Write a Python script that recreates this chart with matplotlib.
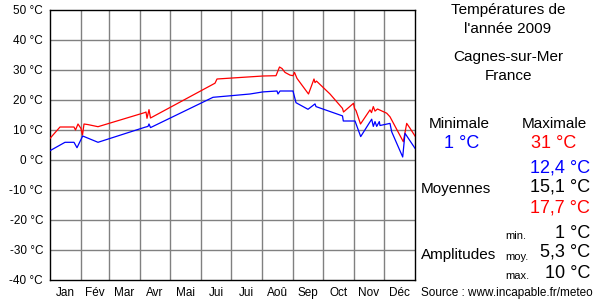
import matplotlib
matplotlib.use("Agg")
import matplotlib.pyplot as plt
import numpy as np

plt.rcParams['font.family'] = ['Liberation Sans', 'DejaVu Sans']

months = ["Jan", "Fév", "Mar", "Avr", "Mai", "Jui", "Jui", "Aoû", "Sep", "Oct", "Nov", "Déc"]
month_starts = [0, 31, 59, 90, 120, 151, 181, 212, 243, 273, 304, 334, 365]
yticks = [50, 40, 30, 20, 10, 0, -10, -20, -30, -40]

max_days = [0, 10, 24, 25.5, 28, 31, 32.5, 34, 38, 48, 94.7, 96, 97, 99, 100.5, 165, 167,
            190, 213, 226, 229.5, 232, 235, 240, 243, 244.5, 247, 258.5, 264, 265, 266.5,
            280, 292.5, 293.5, 303.5, 304.5, 306, 310.5, 320, 321.5, 323.3, 325, 327.5,
            336.7, 340, 353.3, 356.7, 360, 365]
max_vals = [7.2, 11, 11, 10, 12, 10.5, 8.3, 12, 11.8, 11.1, 15.8, 16, 13.9, 16.8, 14, 25.6, 27,
            27.5, 28, 28.1, 31, 30.5, 29.2, 28.3, 28.1, 29.2, 27.2, 22, 27, 25.8, 26.3,
            22, 17.2, 16, 18.9, 17.2, 16.5, 12, 16.7, 15.8, 17.8, 16.3, 17,
            15.6, 14.4, 6.1, 12.2, 10.6, 8]

min_days = [0, 15, 24, 27, 32.7, 48, 94.7, 98, 99, 100.5, 163, 180, 200, 213, 227, 228, 230,
            243, 246, 258, 265, 266, 292.5, 293.3, 305, 310.7, 319, 321.7, 323.3, 325, 326.7,
            329.3, 330, 340, 341.7, 352.7, 355, 365]
min_vals = [3.1, 5.9, 5.9, 4.1, 8, 5.9, 10.9, 11.2, 12, 10.8, 20.9, 21.4, 22, 22.7, 23, 22, 23,
            23, 19.1, 16.9, 18.7, 17.8, 14.7, 13, 13, 7.8, 12.2, 13.6, 11.2, 12.8, 11.2,
            12.8, 11.5, 12.2, 9.4, 1.0, 8.9, 3.9]

fig = plt.figure(figsize=(6, 3), dpi=100)
ax = fig.add_axes([50/600, 1-280/300, 365/600, 270/300])
ax.set_xlim(0, 365)
ax.set_ylim(-40, 50)

for m in month_starts[1:-1]:
    ax.axvline(m, color='#808080', lw=1, zorder=1)
for t in yticks[1:-1]:
    ax.axhline(t, color='#808080', lw=1, zorder=1)

ax.plot(max_days, max_vals, color='#ff0000', lw=0.9, zorder=3)
ax.plot(min_days, min_vals, color='#0000ff', lw=0.9, zorder=3)

ax.set_yticks(yticks)
ax.set_yticklabels([f"{t} °C" for t in yticks], fontsize=8.5)
mids = [(month_starts[i] + month_starts[i+1]) / 2 for i in range(12)]
ax.set_xticks(mids)
ax.set_xticklabels(months, fontsize=8.5)
ax.tick_params(length=0, pad=5)
for s in ax.spines.values():
    s.set_color('black')
    s.set_linewidth(1)

def T(x, y, s, size, color='black', ha='center'):
    fig.text(x/600, 1-y/300, s, fontsize=size, color=color, ha=ha, va='center')

T(508, 10, "Températures de", 11)
T(508, 29, "l'année 2009", 11)
T(508, 57, "Cagnes-sur-Mer", 11)
T(508, 76, "France", 11)
T(459, 124, "Minimale", 11)
T(554, 124, "Maximale", 11)
T(462, 143, "1 °C", 13, '#0000ff')
T(554, 143, "31 °C", 13, '#ff0000')
T(590, 168, "12,4 °C", 13, '#0000ff', 'right')
T(421, 189, "Moyennes", 11, ha='left')
T(590, 187, "15,1 °C", 13, ha='right')
T(590, 208, "17,7 °C", 13, '#ff0000', 'right')
T(505, 236, "min.", 8, ha='left')
T(590, 233, "1 °C", 13, ha='right')
T(421, 255, "Amplitudes", 11, ha='left')
T(505, 257, "moy.", 8, ha='left')
T(590, 252, "5,3 °C", 13, ha='right')
T(505, 276, "max.", 8, ha='left')
T(590, 273, "10 °C", 13, ha='right')
T(421, 293, "Source : www.incapable.fr/meteo", 8.5, ha='left')

fig.savefig("out.png", dpi=100)
